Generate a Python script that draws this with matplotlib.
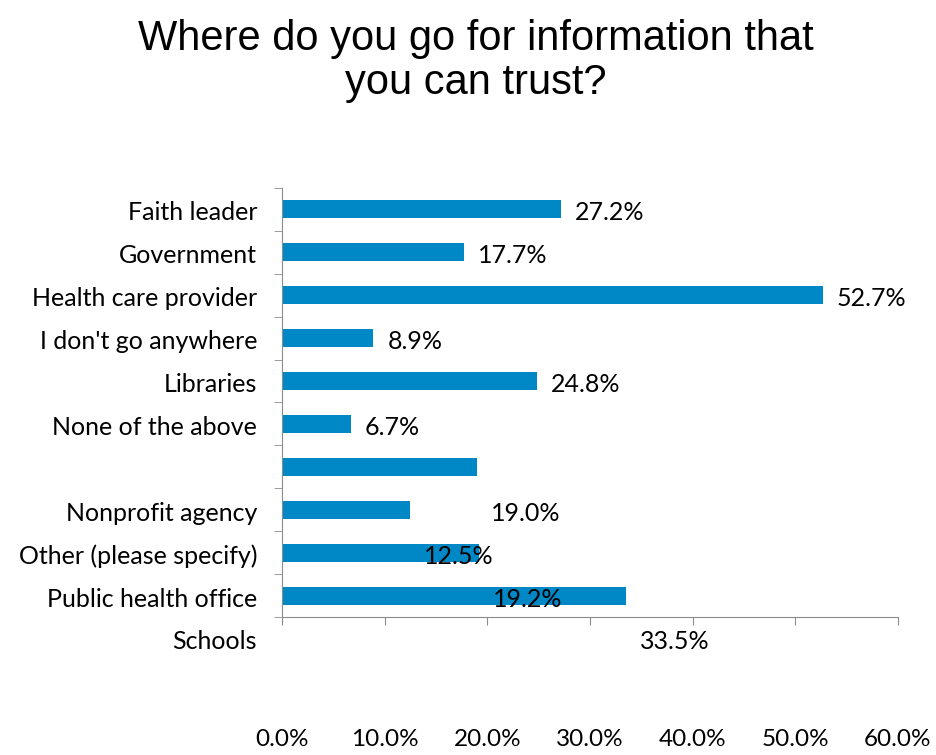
import matplotlib.pyplot as plt
import numpy as np

# ----------------------------
# Survey responses
# ----------------------------
sources = [
    "Faith leader",
    "Government",
    "Health care provider",
    "I don't go anywhere",
    "Libraries",
    "None of the above",
    "Nonprofit agency",
    "Other (please specify)",
    "Public health office",
    "Schools",
]
percent = [27.2, 17.7, 52.7, 8.9, 24.8, 6.7, 19.0, 12.5, 19.2, 33.5]
x_ticks = [0, 10, 20, 30, 40, 50, 60]

# labels after this row end up one row lower than their bars
label_break = 6

bar_color = "#0088C6"
axis_color = "#8c8c8c"
font = ["Lato", "DejaVu Sans"]
fs = 18

# ----------------------------
# Plot
# ----------------------------
fig = plt.figure(figsize=(9.36, 7.55), dpi=100)
ax = fig.add_axes([0.3013, 0.1828, 0.9594 - 0.3013, 0.751 - 0.1828])

rows = np.arange(len(percent))
ax.barh(rows, percent, height=0.42, color=bar_color)

ax.set_xlim(0, 60)
ax.set_ylim(len(percent) - 0.5, -0.5)

label_rows = [r if r < label_break else r + 1 for r in rows]

# category names and value labels
for name, val, r in zip(sources, percent, label_rows):
    ax.annotate(name, xy=(0, r), xycoords=("axes fraction", "data"),
                xytext=(-18, -2.5), textcoords="offset points",
                ha="right", va="center", fontsize=fs, family=font,
                annotation_clip=False)
    ax.annotate(f"{val:.1f}%", xy=(val, r), xytext=(10, -2.5),
                textcoords="offset points", ha="left", va="center",
                fontsize=fs, family=font, annotation_clip=False)

for side in ["top", "right"]:
    ax.spines[side].set_visible(False)
ax.spines["left"].set_color(axis_color)
ax.spines["bottom"].set_color(axis_color)

ax.set_yticks([])
ax.set_yticks(np.arange(-0.5, len(percent), 1.0), minor=True)
ax.tick_params(axis="y", which="minor", length=6, color=axis_color, direction="out")

ax.set_xticks(x_ticks)
ax.set_xticklabels([f"{t:.1f}%" for t in x_ticks], fontsize=17.5, family=font)
ax.tick_params(axis="x", length=6, color=axis_color, direction="out", pad=75)

fig.text(0.508, 0.975, "Where do you go for information that\nyou can trust?",
         ha="center", va="top", fontsize=30, family="Liberation Sans",
         linespacing=1.12)

plt.savefig("out.png", dpi=100)
